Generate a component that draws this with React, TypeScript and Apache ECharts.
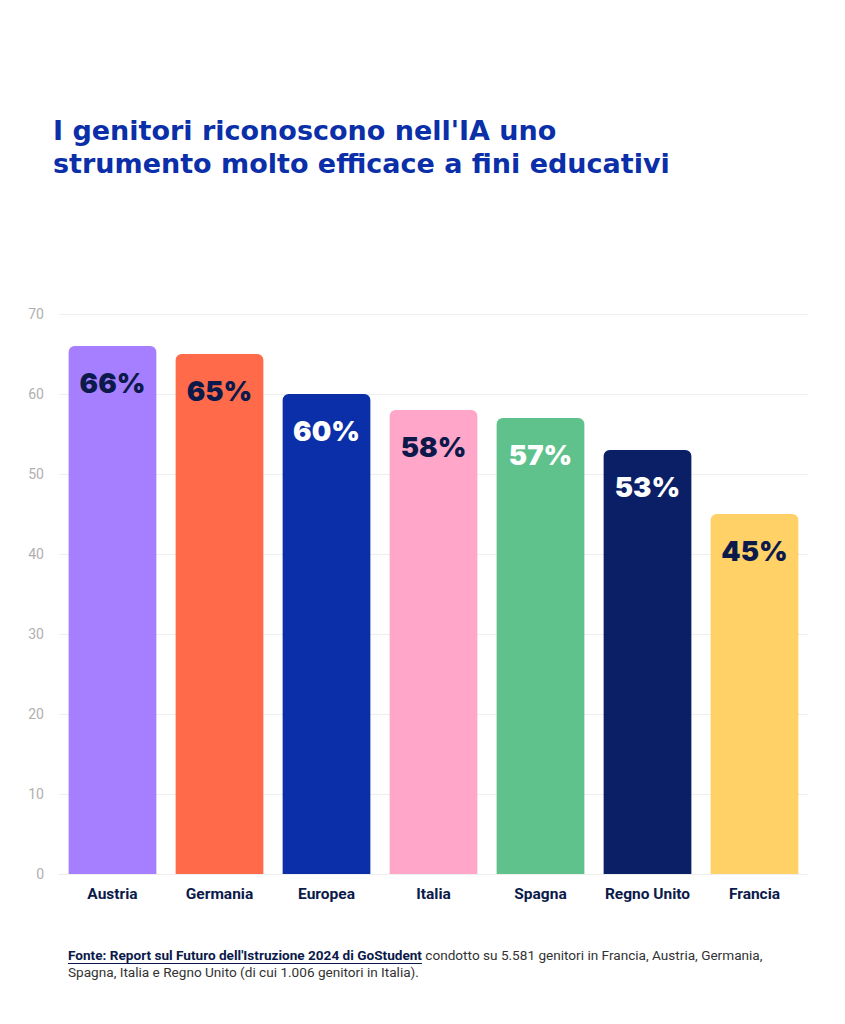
import React, { useEffect, useRef } from "react";
import * as echarts from "echarts";

const categories = ["Austria", "Germania", "Europea", "Italia", "Spagna", "Regno Unito", "Francia"];
const values = [66, 65, 60, 58, 57, 53, 45];
const barColors = ["#A57FFF", "#FF6B4A", "#0A2FA8", "#FFA6C9", "#5FC28C", "#0B1F66", "#FFD166"];
const labelColors = ["#0B1A4A", "#0B1A4A", "#FFFFFF", "#0B1A4A", "#FFFFFF", "#FFFFFF", "#0B1A4A"];
const yTicks = { min: 0, max: 70, interval: 10 };

const titleLines = ["I genitori riconoscono nell'IA uno", "strumento molto efficace a fini educativi"];
const sourceBold = "Fonte: Report sul Futuro dell'Istruzione 2024 di GoStudent";
const sourceRest1 = " condotto su 5.581 genitori in Francia, Austria, Germania,";
const sourceLine2 = "Spagna, Italia e Regno Unito (di cui 1.006 genitori in Italia).";

const FOOT_FONT = "Roboto";
const FOOT_SIZE = 13.6;

function measure(text: string, font: string) {
  const c = document.createElement("canvas").getContext("2d");
  if (!c) return text.length * 6;
  c.font = font;
  return c.measureText(text).width;
}

export default function App() {
  const ref = useRef<HTMLDivElement>(null);
  useEffect(() => {
    document.body.style.margin = "0";
    if (!ref.current) return;
    const chart = echarts.init(ref.current, null, { renderer: "svg" });
    const boldW = measure(sourceBold, `bold ${FOOT_SIZE}px ${FOOT_FONT}`);
    const footX = 68;
    const footY1 = 948;
    chart.setOption({
      animation: false,
      backgroundColor: "#FFFFFF",
      title: {
        text: titleLines.join("\n"),
        left: 53,
        top: 114,
        padding: 0,
        textStyle: {
          color: "#0A2FA8",
          fontFamily: "DejaVu Sans",
          fontWeight: "bold",
          fontSize: 27,
          lineHeight: 33,
        },
      },
      grid: { left: 59, right: 37, top: 314, bottom: 150 },
      xAxis: {
        type: "category",
        data: categories,
        axisLine: { show: true, lineStyle: { color: "#EEEEEE" } },
        axisTick: { show: false },
        axisLabel: {
          interval: 0,
          color: "#0B1A4A",
          fontFamily: "Roboto",
          fontWeight: "bold",
          fontSize: 15.5,
          margin: 12,
        },
      },
      yAxis: {
        type: "value",
        min: yTicks.min,
        max: yTicks.max,
        interval: yTicks.interval,
        axisLine: { show: false },
        axisTick: { show: false },
        splitLine: { lineStyle: { color: "#EEEEEE" } },
        axisLabel: { color: "#AFAFAF", fontFamily: "Roboto", fontSize: 14, margin: 15 },
      },
      series: [
        {
          type: "bar",
          barCategoryGap: "18%",
          data: values.map((v, i) => ({
            value: v,
            itemStyle: { color: barColors[i], borderRadius: [6, 6, 0, 0] },
            label: { color: labelColors[i] },
          })),
          label: {
            show: true,
            position: "insideTop",
            distance: 23,
            formatter: (p: any) => `${p.value}%`,
            fontFamily: "Inter",
            fontWeight: 900,
            fontSize: 27.5,
          },
        },
      ],
      graphic: [
        {
          type: "text",
          left: footX,
          top: footY1,
          style: {
            text: `{b|${sourceBold}}{n|${sourceRest1}}\n{n|${sourceLine2}}`,
            rich: {
              b: { fontFamily: FOOT_FONT, fontSize: FOOT_SIZE, fontWeight: "bold", fill: "#0B1A4A", lineHeight: 17 },
              n: { fontFamily: FOOT_FONT, fontSize: FOOT_SIZE, fill: "#333333", lineHeight: 17 },
            },
          },
        },
        {
          type: "rect",
          shape: { x: footX, y: footY1 + 15, width: boldW, height: 1 },
          style: { fill: "#0B1A4A" },
        },
      ],
    });
    return () => chart.dispose();
  }, []);
  return <div ref={ref} style={{ width: 845, height: 1024 }} />;
}
